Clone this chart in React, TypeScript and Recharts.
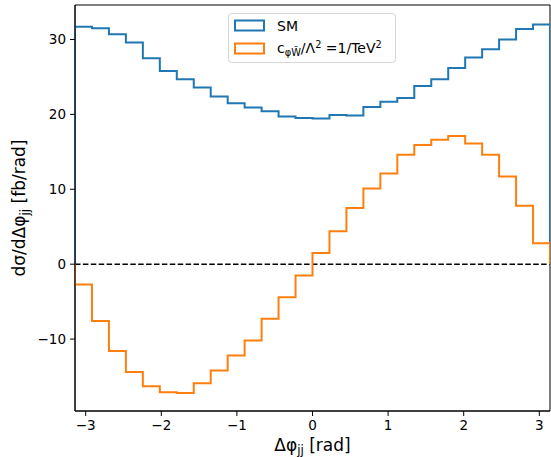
import React from 'react'
import { ComposedChart, Line, XAxis, YAxis, ReferenceLine, ReferenceArea } from 'recharts'

const binCount = 28
const smValues = [
  31.7, 31.5, 30.7, 29.6, 27.5, 25.8, 24.7, 23.6, 22.4, 21.5, 20.9, 20.4, 19.7, 19.5,
  19.45, 19.9, 19.85, 21.0, 21.7, 22.2, 23.8, 24.7, 26.2, 27.6, 28.7, 30.0, 31.4, 32.0,
]
const eftValues = [
  -2.7, -7.6, -11.6, -14.4, -16.3, -17.1, -17.2, -15.9, -14.2, -12.2, -10.2, -7.3, -4.4, -1.5,
  1.5, 4.4, 7.5, 10.1, 12.1, 14.6, 15.9, 16.6, 17.1, 16.1, 14.6, 11.7, 7.8, 2.8,
]
const xTicks = [-3, -2, -1, 0, 1, 2, 3]
const yTicks = [-10, 0, 10, 20, 30]

const FONT = 'DejaVu Sans, sans-serif'
const BLUE = '#1f77b4'
const ORANGE = '#ff7f0e'

const edges = Array.from({ length: binCount + 1 }, (_, k) => -Math.PI + (k * 2 * Math.PI) / binCount)

const data = [
  { x: -Math.PI, sm: 0, eft: 0 },
  ...smValues.map((v, i) => ({ x: edges[i], sm: v, eft: eftValues[i] })),
  { x: Math.PI, sm: smValues[binCount - 1], eft: eftValues[binCount - 1] },
  { x: Math.PI, sm: 0, eft: 0 },
]

const fmt = (v: number) => (v < 0 ? '\u2212' + Math.abs(v) : String(v))

function YLabel(props: any) {
  const vb = props.viewBox || { x: 0, y: 5, width: 75, height: 406 }
  const cx = vb.x + 25
  const cy = vb.y + vb.height / 2
  return (
    <text
      x={cx}
      y={cy}
      transform={`rotate(-90 ${cx} ${cy})`}
      textAnchor="middle"
      fontFamily={FONT}
      fontSize={17}
      fill="#000"
    >
      <tspan>dσ/dΔφ</tspan>
      <tspan fontSize={12} dy={3.5}>jj</tspan>
      <tspan dy={-3.5}> [fb/rad]</tspan>
    </text>
  )
}

function XLabel(props: any) {
  const vb = props.viewBox || { x: 75, y: 411, width: 475, height: 46 }
  const cx = vb.x + vb.width / 2
  const cy = vb.y + 40
  return (
    <text x={cx} y={cy} textAnchor="middle" fontFamily={FONT} fontSize={17} fill="#000">
      <tspan>Δφ</tspan>
      <tspan fontSize={12} dy={3}>jj</tspan>
      <tspan dy={-3}> [rad]</tspan>
    </text>
  )
}

function LegendBox() {
  return (
    <svg
      width={170}
      height={52}
      style={{ position: 'absolute', left: 227, top: 12, overflow: 'visible' }}
    >
      <rect x={1.5} y={1.5} width={167} height={49} rx={3} fill="#fff" fillOpacity={0.8} stroke="#d6d6d6" strokeWidth={1} />
      <rect x={8} y={8.5} width={29} height={10} fill="none" stroke={BLUE} strokeWidth={2} />
      <rect x={8} y={31.5} width={29} height={10} fill="none" stroke={ORANGE} strokeWidth={2} />
      <text x={50} y={19} fontFamily={FONT} fontSize={14} fill="#000">SM</text>
      <text x={50} y={41} fontFamily={FONT} fontSize={14} fill="#000">
        <tspan>c</tspan>
        <tspan fontSize={9.8} dy={3}>φW̃</tspan>
        <tspan dy={-3}>/Λ</tspan>
        <tspan fontSize={9.8} dy={-5}>2</tspan>
        <tspan dy={5}> =1/TeV</tspan>
        <tspan fontSize={9.8} dy={-5}>2</tspan>
      </text>
    </svg>
  )
}

export default function App() {
  return (
    <div style={{ position: 'absolute', left: 0, top: 0, width: 551, height: 457, background: '#fff' }}>
      <ComposedChart width={551} height={457} data={data} margin={{ top: 5, right: 1, bottom: 0, left: 0 }}>
        <XAxis
          dataKey="x"
          type="number"
          domain={[-Math.PI, Math.PI]}
          allowDataOverflow
          ticks={xTicks}
          tickFormatter={fmt}
          height={46}
          tickSize={5}
          tickMargin={4}
          axisLine={{ stroke: '#000', strokeWidth: 1 }}
          tickLine={{ stroke: '#000', strokeWidth: 1 }}
          tick={{ fill: '#000', fontSize: 13.5, fontFamily: FONT }}
          label={{ content: XLabel }}
        />
        <YAxis
          type="number"
          domain={[-19.6, 34.6]}
          allowDataOverflow
          ticks={yTicks}
          tickFormatter={fmt}
          width={75}
          tickSize={5}
          tickMargin={4}
          axisLine={{ stroke: '#000', strokeWidth: 1 }}
          tickLine={{ stroke: '#000', strokeWidth: 1 }}
          tick={{ fill: '#000', fontSize: 13.5, fontFamily: FONT }}
          label={{ content: YLabel }}
        />
        <ReferenceLine y={0} stroke="#000" strokeWidth={1.5} strokeDasharray="5.5 2.4" />
        <Line
          dataKey="sm"
          type="stepAfter"
          stroke={BLUE}
          strokeWidth={2}
          dot={false}
          activeDot={false}
          isAnimationActive={false}
        />
        <Line
          dataKey="eft"
          type="stepAfter"
          stroke={ORANGE}
          strokeWidth={2}
          dot={false}
          activeDot={false}
          isAnimationActive={false}
        />
        <ReferenceArea
          x1={-Math.PI}
          x2={Math.PI}
          y1={-19.6}
          y2={34.6}
          fill="none"
          fillOpacity={0}
          stroke="#000"
          strokeWidth={1}
        />
      </ComposedChart>
      <LegendBox />
    </div>
  )
}
